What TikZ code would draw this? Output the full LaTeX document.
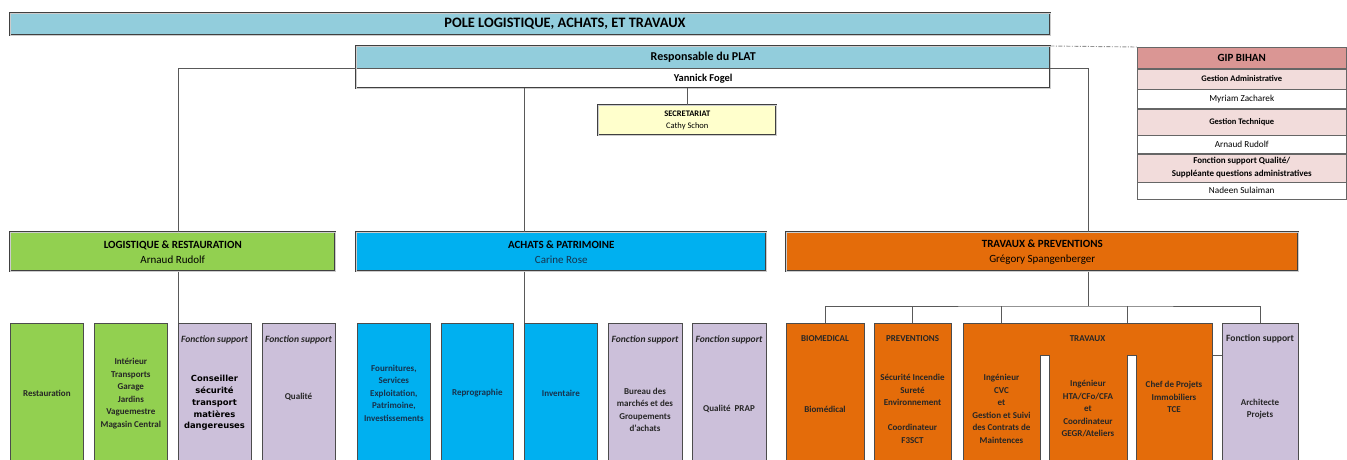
\documentclass[tikz,border=0pt]{standalone}
\usepackage{fontspec}
\setmainfont{Carlito}
\newfontfamily\verdfont{DejaVu Sans}
\usetikzlibrary{positioning}

\definecolor{poleblue}{HTML}{92CDDC}
\definecolor{loggreen}{HTML}{92D050}
\definecolor{achblue}{HTML}{00B0F0}
\definecolor{travorange}{HTML}{E46C0A}
\definecolor{supplilac}{HTML}{CCC0DA}
\definecolor{secyellow}{HTML}{FFFFCC}
\definecolor{giprose}{HTML}{DA9694}
\definecolor{giplight}{HTML}{F2DCDB}
\definecolor{navytxt}{HTML}{17324D}

\tikzset{
    dblline/.style={draw=black!75, double=gray!40, double distance=0.9pt, line width=0.5pt},
    dblbox/.style={dblline, anchor=north west, inner sep=0pt, align=center},
    subbox/.style={draw=black!70, line width=0.7pt, anchor=north west,
        minimum height=140pt, inner sep=0pt},
    giprow/.style={draw=black!60, line width=0.5pt, minimum width=209pt,
        inner sep=0pt, align=center, font=\fontsize{9.2}{13}\selectfont},
    conn/.style={draw=black!65, line width=0.8pt},
    gipdash/.style={draw=gray!85, line width=0.9pt,
        dash pattern=on 4pt off 1.5pt on 1pt off 1.5pt},
    headtxt/.style={font=\bfseries\fontsize{11}{15}\selectfont, align=center},
    boxtxt/.style={font=\bfseries\fontsize{9}{12.5}\selectfont, align=center, text=black!85},
    fsuptxt/.style={font=\bfseries\itshape\fontsize{9.6}{11}\selectfont, text=black!85},
}

\begin{document}
\begin{tikzpicture}[x=1pt, y=-1pt]

    \useasboundingbox (0,0) rectangle (1347,459);
    \clip (0,0) rectangle (1347,459);

    % Pole banner
    \node[dblbox, fill=poleblue,
        minimum width=1040pt,
        minimum height=22pt] (pole) at (10,13) {};
    \node[font=\bfseries\fontsize{14.4}{16}\selectfont] (pole_t) at (565,24) {POLE LOGISTIQUE, ACHATS, ET TRAVAUX};

    % Head of the pole
    \node[fill=poleblue, anchor=north west,
        minimum width=694pt,
        minimum height=22pt,
        font=\bfseries\fontsize{12}{13}\selectfont] (plathead) at (356,46) {Responsable du PLAT};
    \node[anchor=north west,
        minimum width=694pt,
        minimum height=20pt,
        font=\bfseries\fontsize{10.5}{12}\selectfont] (platname) at (356,68) {Yannick Fogel};
    \draw[conn, line width=0.6pt] (plathead.south west) -- (plathead.south east);
    \draw[dblline] (plathead.north west) rectangle (platname.south east);

    % Secretariat
    \node[dblbox, fill=secyellow,
        minimum width=178pt,
        minimum height=30pt,
        font=\bfseries\fontsize{8.5}{12}\selectfont] (secr) at (598,105) {SECRETARIAT\\ \mdseries Cathy Schon};

    % GIP table
    \node[giprow, fill=giprose, anchor=north west,
        minimum height=21pt,
        font=\bfseries\fontsize{11}{12}\selectfont] (gip) at (1137,47) {GIP BIHAN};
    \node[giprow, fill=giplight, minimum height=20pt, below=0pt of gip,
        font=\bfseries\fontsize{8.5}{10}\selectfont] (gip_ga) {Gestion Administrative};
    \node[giprow, minimum height=19pt, below=0pt of gip_ga] (gip_mz) {Myriam Zacharek};
    \node[giprow, fill=giplight, minimum height=26pt, below=0pt of gip_mz,
        font=\bfseries\fontsize{8.5}{10}\selectfont] (gip_gt) {Gestion Technique};
    \node[giprow, minimum height=18pt, below=0pt of gip_gt] (gip_ar) {Arnaud Rudolf};
    \node[giprow, fill=giplight, minimum height=28pt, below=0pt of gip_ar,
        font=\bfseries\fontsize{9}{13}\selectfont] (gip_fs) {Fonction support Qualité/\\Suppléante questions administratives};
    \node[giprow, minimum height=17pt, below=0pt of gip_fs] (gip_ns) {Nadeen Sulaiman};
    \draw[gipdash] (plathead.north east) -- (gip.north west);

    % Departments
    \node[dblbox, fill=loggreen, headtxt,
        minimum width=325pt,
        minimum height=39pt] (log) at (10,232) {LOGISTIQUE \& RESTAURATION\\ \mdseries Arnaud Rudolf};
    \node[dblbox, fill=achblue, headtxt,
        minimum width=410pt,
        minimum height=39pt] (ach) at (356,232) {ACHATS \& PATRIMOINE\\ \mdseries\color{navytxt}Carine Rose};
    \node[dblbox, fill=travorange, headtxt,
        minimum width=512pt,
        minimum height=39pt] (trav) at (786,232) {TRAVAUX \& PREVENTIONS\\ \mdseries Grégory Spangenberger};

    % Logistique units
    \node[subbox, fill=loggreen, boxtxt, minimum width=73pt] (restau) at (10,323) {Restauration};
    \node[subbox, fill=loggreen, boxtxt, minimum width=73pt] (interieur) at (94,323)
        {Intérieur\\Transports\\Garage\\Jardins\\Vaguemestre\\Magasin Central};
    \node[subbox, fill=supplilac, minimum width=73pt] (conseil) at (178,323) {};
    \node[subbox, fill=supplilac, minimum width=73pt] (qualite) at (262,323) {};
    \node[fsuptxt] (conseil_h) at (214.5,340) {Fonction support};
    \node[fsuptxt] (qualite_h) at (298.5,340) {Fonction support};
    \node[align=center, font=\verdfont\bfseries\fontsize{8.4}{11.8}\selectfont] (conseil_t) at (214.5,403)
        {Conseiller\\sécurité\\transport\\matières\\dangereuses};
    \node[boxtxt] (qualite_t) at (298.5,397) {Qualité};

    % Achats units
    \node[subbox, fill=achblue, boxtxt, text=navytxt, minimum width=73pt] (fourn) at (357,323)
        {Fournitures,\\Services\\Exploitation,\\Patrimoine,\\Investissements};
    \node[subbox, fill=achblue, boxtxt, text=navytxt, minimum width=72pt] (repro) at (441,323) {Reprographie};
    \node[subbox, fill=achblue, boxtxt, text=navytxt, minimum width=73pt] (invent) at (524,323) {Inventaire};
    \node[subbox, fill=supplilac, minimum width=74pt] (bureau) at (608,323) {};
    \node[subbox, fill=supplilac, minimum width=74pt] (prap) at (692,323) {};
    \node[fsuptxt] (bureau_h) at (645,340) {Fonction support};
    \node[fsuptxt] (prap_h) at (729,340) {Fonction support};
    \node[boxtxt] (bureau_t) at (645,410) {Bureau des\\marchés et des\\Groupements\\d'achats};
    \node[boxtxt] (prap_t) at (729,409) {Qualité~~PRAP};

    % Travaux units
    \node[subbox, fill=travorange, minimum width=78pt] (biomed) at (786,323) {};
    \node[subbox, fill=travorange, minimum width=77pt] (prev) at (874,323) {};
    \node[subbox, fill=travorange, minimum width=249pt] (travx) at (963,323) {};
    \node[subbox, fill=supplilac, minimum width=76pt] (fsup) at (1222,323) {};
    \node[subbox, fill=white, minimum width=9pt, minimum height=120pt] (notch1) at (1040,355) {};
    \node[subbox, fill=white, minimum width=9pt, minimum height=120pt] (notch2) at (1127,355) {};

    \node[boxtxt] (biomed_h) at (825,339) {BIOMEDICAL};
    \node[boxtxt] (prev_h) at (912.5,339) {PREVENTIONS};
    \node[boxtxt] (travx_h) at (1087.5,339) {TRAVAUX};
    \node[boxtxt, font=\bfseries\fontsize{9.6}{12}\selectfont] (fsup_h) at (1260,339) {Fonction support};
    \node[boxtxt] (biomed_t) at (825,409) {Biomédical};
    \node[boxtxt] (prev_t) at (912.5,409)
        {Sécurité Incendie\\Sureté\\Environnement\\[12.5pt]Coordinateur\\F3SCT};
    \node[boxtxt] (cvc_t) at (1001.5,409)
        {Ingénieur\\CVC\\et\\Gestion et Suivi\\des Contrats de\\Maintences};
    \node[boxtxt] (hta_t) at (1088,409)
        {Ingénieur\\HTA/CFo/CFA\\et\\Coordinateur\\GEGR/Ateliers};
    \node[boxtxt] (chef_t) at (1174,397) {Chef de Projets\\Immobiliers\\TCE};
    \node[boxtxt] (fsup_t) at (1260,409) {Architecte\\Projets};

    % Connectors
    \coordinate (tpbus) at (1088,306);
    \draw[conn] (platname.north west) -| (log.north -| conseil.north west);
    \draw[conn] (log.south -| conseil.north west) -- (conseil.north west);
    \draw[conn] (platname.south -| invent.north west) -- (ach.north -| invent.north west);
    \draw[conn] (ach.south -| invent.north west) -- (invent.north west);
    \draw[conn] (platname.south -| secr.north) -- (secr.north);
    \draw[conn] (platname.north east) -| (trav.north -| tpbus);
    \draw[conn] (trav.south -| tpbus) -- (tpbus);
    \draw[conn] (biomed.north) |- (tpbus) -| (fsup.north);
    \draw[conn] (prev.north) -- (prev.north |- tpbus);
    \draw[conn] (cvc_t.north |- travx.north) -- (cvc_t.north |- tpbus);
    \draw[conn] (notch2.north west |- travx.north) -- (notch2.north west |- tpbus);
    \draw[conn] (travx.east |- notch2.north) -- (fsup.west |- notch2.north);

\end{tikzpicture}
\end{document}
